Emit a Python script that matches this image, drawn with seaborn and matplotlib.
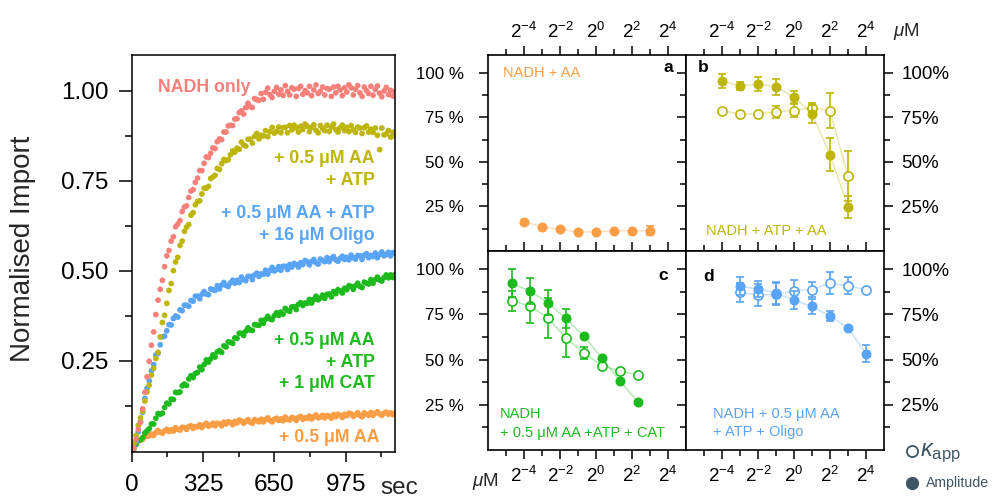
import numpy as np
import pandas as pd
import matplotlib
matplotlib.use("Agg")
import matplotlib.pyplot as plt
import seaborn as sns
from matplotlib.ticker import FixedLocator, FixedFormatter, NullFormatter
from matplotlib.lines import Line2D

# ---------------- data: time course (left panel) ----------------
time_s = np.arange(0, 1201, 10)

nadh_only = [
    0.000, 0.007, 0.031, 0.059, 0.078, 0.116, 0.162, 0.205, 0.248, 0.293,
    0.330, 0.378, 0.418, 0.448, 0.473, 0.511, 0.541, 0.556, 0.582, 0.594,
    0.622, 0.629, 0.639, 0.664, 0.677, 0.680, 0.703, 0.721, 0.725, 0.745,
    0.757, 0.778, 0.778, 0.798, 0.816, 0.814, 0.826, 0.841, 0.839, 0.858,
    0.866, 0.864, 0.885, 0.885, 0.902, 0.904, 0.903, 0.921, 0.922, 0.939,
    0.944, 0.935, 0.953, 0.965, 0.955, 0.953, 0.978, 0.975, 0.973, 0.992,
    0.976, 0.995, 1.007, 0.989, 0.981, 0.998, 1.009, 0.990, 1.002, 0.987,
    1.014, 0.998, 0.988, 1.008, 1.004, 0.984, 1.006, 1.012, 0.990, 1.000,
    0.994, 1.012, 0.986, 1.002, 1.016, 0.992, 0.998, 1.010, 0.988, 1.006,
    1.004, 0.984, 1.010, 0.994, 1.012, 1.002, 0.986, 1.008, 0.996, 1.016,
    1.008, 0.988, 1.004, 1.014, 0.994, 0.984, 1.010, 1.000, 0.992, 1.012,
    0.987, 1.003, 1.013, 0.993, 0.983, 0.999, 1.009, 0.989, 1.001, 0.985,
    0.998]

aa_atp = [
    0.000, 0.020, 0.042, 0.070, 0.091, 0.109, 0.138, 0.163, 0.182, 0.210,
    0.229, 0.256, 0.273, 0.316, 0.356, 0.376, 0.409, 0.445, 0.464, 0.500,
    0.524, 0.537, 0.570, 0.582, 0.609, 0.621, 0.628, 0.654, 0.661, 0.683,
    0.692, 0.694, 0.713, 0.729, 0.729, 0.734, 0.756, 0.760, 0.765, 0.784,
    0.781, 0.797, 0.809, 0.806, 0.808, 0.822, 0.833, 0.829, 0.840, 0.837,
    0.857, 0.849, 0.846, 0.865, 0.865, 0.854, 0.873, 0.881, 0.866, 0.876,
    0.874, 0.889, 0.872, 0.886, 0.898, 0.882, 0.887, 0.899, 0.883, 0.897,
    0.898, 0.883, 0.903, 0.891, 0.904, 0.897, 0.885, 0.901, 0.892, 0.907,
    0.901, 0.886, 0.898, 0.905, 0.890, 0.883, 0.903, 0.895, 0.889, 0.904,
    0.887, 0.899, 0.907, 0.892, 0.885, 0.897, 0.904, 0.889, 0.898, 0.886,
    0.903, 0.891, 0.884, 0.899, 0.896, 0.881, 0.897, 0.902, 0.885, 0.893,
    0.884, 0.896, 0.876, 0.836, 0.896, 0.877, 0.880, 0.889, 0.871, 0.884,
    0.874]

aa_atp_oligo = [
    0.000, 0.012, 0.025, 0.052, 0.081, 0.106, 0.145, 0.173, 0.194, 0.222,
    0.239, 0.266, 0.270, 0.294, 0.316, 0.318, 0.333, 0.350, 0.349, 0.367,
    0.374, 0.371, 0.391, 0.389, 0.404, 0.404, 0.401, 0.417, 0.415, 0.429,
    0.429, 0.422, 0.434, 0.442, 0.435, 0.433, 0.449, 0.447, 0.445, 0.458,
    0.449, 0.460, 0.467, 0.459, 0.456, 0.466, 0.473, 0.465, 0.473, 0.467,
    0.482, 0.475, 0.472, 0.484, 0.484, 0.475, 0.488, 0.493, 0.484, 0.491,
    0.490, 0.501, 0.490, 0.500, 0.509, 0.499, 0.503, 0.511, 0.501, 0.512,
    0.512, 0.503, 0.517, 0.510, 0.520, 0.517, 0.510, 0.522, 0.517, 0.528,
    0.525, 0.516, 0.525, 0.531, 0.522, 0.518, 0.532, 0.528, 0.525, 0.536,
    0.525, 0.534, 0.539, 0.530, 0.526, 0.534, 0.540, 0.531, 0.537, 0.530,
    0.543, 0.536, 0.532, 0.542, 0.541, 0.531, 0.543, 0.547, 0.536, 0.542,
    0.539, 0.549, 0.536, 0.545, 0.552, 0.541, 0.545, 0.551, 0.541, 0.550,
    0.548]

aa_atp_cat = [
    0.000, 0.005, 0.017, 0.028, 0.030, 0.036, 0.049, 0.055, 0.061, 0.074,
    0.074, 0.090, 0.103, 0.101, 0.104, 0.120, 0.132, 0.130, 0.143, 0.142,
    0.162, 0.161, 0.163, 0.180, 0.185, 0.181, 0.199, 0.208, 0.203, 0.214,
    0.217, 0.232, 0.225, 0.239, 0.252, 0.246, 0.255, 0.266, 0.260, 0.274,
    0.278, 0.273, 0.291, 0.288, 0.302, 0.301, 0.298, 0.313, 0.312, 0.326,
    0.326, 0.320, 0.332, 0.341, 0.335, 0.334, 0.350, 0.349, 0.348, 0.362,
    0.354, 0.365, 0.373, 0.366, 0.364, 0.375, 0.383, 0.376, 0.385, 0.379,
    0.395, 0.389, 0.387, 0.399, 0.400, 0.392, 0.406, 0.411, 0.403, 0.410,
    0.409, 0.420, 0.410, 0.420, 0.429, 0.419, 0.424, 0.432, 0.423, 0.434,
    0.435, 0.427, 0.442, 0.436, 0.447, 0.444, 0.438, 0.451, 0.447, 0.458,
    0.456, 0.448, 0.458, 0.465, 0.456, 0.453, 0.468, 0.465, 0.463, 0.475,
    0.465, 0.475, 0.482, 0.474, 0.471, 0.481, 0.488, 0.480, 0.488, 0.481,
    0.489]

aa_only = [
    0.000, 0.009, 0.019, 0.027, 0.029, 0.031, 0.039, 0.040, 0.041, 0.046,
    0.042, 0.050, 0.056, 0.051, 0.048, 0.055, 0.059, 0.053, 0.058, 0.054,
    0.064, 0.059, 0.057, 0.065, 0.064, 0.059, 0.067, 0.069, 0.062, 0.067,
    0.066, 0.072, 0.064, 0.071, 0.076, 0.068, 0.071, 0.076, 0.069, 0.076,
    0.075, 0.069, 0.079, 0.074, 0.080, 0.078, 0.072, 0.081, 0.077, 0.085,
    0.082, 0.076, 0.081, 0.086, 0.079, 0.076, 0.086, 0.083, 0.080, 0.087,
    0.080, 0.086, 0.091, 0.084, 0.080, 0.087, 0.090, 0.084, 0.088, 0.083,
    0.093, 0.087, 0.085, 0.092, 0.090, 0.084, 0.092, 0.095, 0.087, 0.091,
    0.090, 0.096, 0.088, 0.094, 0.099, 0.091, 0.093, 0.098, 0.091, 0.097,
    0.096, 0.090, 0.100, 0.094, 0.101, 0.098, 0.092, 0.101, 0.097, 0.104,
    0.102, 0.095, 0.100, 0.105, 0.098, 0.094, 0.105, 0.101, 0.098, 0.106,
    0.098, 0.104, 0.108, 0.102, 0.098, 0.104, 0.107, 0.101, 0.105, 0.100,
    0.104]

time_ticks = [0, 325, 650, 975]
time_minor = [162.5, 487.5, 812.5, 1137.5]
import_ticks = [0.25, 0.50, 0.75, 1.00]
import_minor = [0.125, 0.375, 0.625, 0.875]

# ---------------- data: titrations (right panels) ----------------
conc_a = [0.0625, 0.125, 0.25, 0.5, 1, 2, 4, 8]
amp_a = [16.5, 13.5, 12.2, 10.7, 10.7, 11.3, 11.3, 11.3]
amp_a_err = [0.6, 0.5, 0.5, 0.5, 0.5, 0.6, 0.6, 2.5]

conc_b = [0.0625, 0.125, 0.25, 0.5, 1, 2, 4, 8]
amp_b = [95.4, 92.7, 93.7, 92.2, 86.3, 77.0, 54.1, 24.7]
amp_b_err = [3.7, 2.3, 3.9, 4.4, 3.5, 4.9, 9.3, 6.4]
kapp_b = [78.8, 76.8, 77.0, 78.2, 78.8, 80.5, 78.6, 42.0]
kapp_b_err = [0.8, 0.6, 0.6, 3.4, 3.7, 2.6, 9.8, 14.0]

conc_c = [0.039, 0.078, 0.156, 0.3125, 0.625, 1.25, 2.5, 5]
amp_c = [92.2, 87.8, 81.5, 72.8, 63.0, 50.9, 38.3, 26.5]
amp_c_err = [7.6, 7.3, 7.1, 5.1, 0.6, 0.6, 0.6, 0.6]
kapp_c = [82.4, 79.7, 73.0, 62.1, 53.7, 46.7, 43.7, 41.5]
kapp_c_err = [5.6, 9.4, 11.0, 10.6, 3.2, 0.6, 0.6, 0.6]

conc_d = [0.125, 0.25, 0.5, 1, 2, 4, 8, 16]
amp_d = [90.6, 88.9, 86.9, 82.8, 79.4, 73.9, 67.6, 53.2]
amp_d_err = [4.8, 4.5, 6.0, 5.0, 4.3, 2.8, 0.6, 4.8]
kapp_d = [87.1, 85.6, 86.1, 88.0, 88.7, 92.2, 90.8, 88.6]
kapp_d_err = [5.3, 6.0, 6.0, 6.0, 4.3, 6.0, 4.6, 0.6]

conc_ticks = [2**-4, 2**-2, 2**0, 2**2, 2**4]
conc_minor = [2**-5, 2**-3, 2**-1, 2**1, 2**3]
conc_labels = [r"$2^{-4}$", r"$2^{-2}$", r"$2^{0}$", r"$2^{2}$", r"$2^{4}$"]
pct_ticks = [25, 50, 75, 100]
pct_minor = [12.5, 37.5, 62.5, 87.5]
pct_labels_left = ["25 %", "50 %", "75 %", "100 %"]
pct_labels_right = ["25%", "50%", "75%", "100%"]

# ---------------- style ----------------
RED = "#F7807B"
OLIVE = "#BDB507"
BLUE = "#5AA4F6"
GREEN = "#1DBA1D"
ORANGE = "#FA9E45"
DARK = "#3E5563"

sns.set_theme(style="ticks")
plt.rcParams["font.family"] = ["Liberation Sans", "DejaVu Sans"]
plt.rcParams.update({
    "mathtext.fontset": "custom",
    "mathtext.rm": "Liberation Sans",
    "mathtext.it": "Liberation Sans:italic",
    "mathtext.bf": "Liberation Sans:bold",
    "axes.linewidth": 1.1,
    "axes.edgecolor": "black",
    "xtick.color": "black",
    "ytick.color": "black",
})

W, H = 998, 500
fig = plt.figure(figsize=(W / 100, H / 100), dpi=100)


def fx(px):
    return px / W


def fy(py):
    return 1 - py / H


# ---------------- left panel ----------------
ax0 = fig.add_axes([fx(131.7), fy(451.7), fx(395) - fx(131.7), fy(55) - fy(451.7)])
conditions = ["+ AA", "+ AA + ATP + CAT", "+ AA + ATP + Oligo", "+ AA + ATP", "NADH only"]
series = [aa_only, aa_atp_cat, aa_atp_oligo, aa_atp, nadh_only]
palette = dict(zip(conditions, [ORANGE, GREEN, BLUE, OLIVE, RED]))
df = pd.DataFrame({
    "time": np.tile(time_s, len(series)),
    "import": np.concatenate([np.asarray(s) for s in series]),
    "condition": np.repeat(conditions, len(time_s)),
})
sns.scatterplot(data=df, x="time", y="import", hue="condition", hue_order=conditions,
                palette=palette, s=17, linewidth=0, legend=False, ax=ax0)
ax0.set_xlim(0, 1200)
ax0.set_ylim(-0.003, 1.099)
ax0.xaxis.set_major_locator(FixedLocator(time_ticks))
ax0.xaxis.set_minor_locator(FixedLocator(time_minor))
ax0.xaxis.set_major_formatter(FixedFormatter([str(t) for t in time_ticks]))
ax0.yaxis.set_major_locator(FixedLocator(import_ticks))
ax0.yaxis.set_minor_locator(FixedLocator(import_minor))
ax0.yaxis.set_major_formatter(FixedFormatter([f"{v:.2f}" for v in import_ticks]))
ax0.set_xlabel("")
ax0.set_ylabel("")
ax0.tick_params(axis="both", which="both", direction="out", width=1.1, labelsize=17.5)
ax0.tick_params(axis="y", which="major", length=9.5, pad=7)
ax0.tick_params(axis="y", which="minor", length=4.8)
ax0.tick_params(axis="x", which="major", length=7.2, pad=9)
ax0.tick_params(axis="x", which="minor", length=3.6)
for sp in ax0.spines.values():
    sp.set_visible(True)
    sp.set_linewidth(1.1)

bold = dict(fontweight="bold", fontsize=12.8, va="baseline")
ax0.text(121, 0.997, "NADH only", color=RED, ha="left", **bold)
ax0.text(1109, 0.798, "+ 0.5 μM AA", color=OLIVE, ha="right", **bold)
ax0.text(1109, 0.738, "+ ATP", color=OLIVE, ha="right", **bold)
ax0.text(1109, 0.645, "+ 0.5 μM AA + ATP", color=BLUE, ha="right", **bold)
ax0.text(1109, 0.585, "+ 16 μM Oligo", color=BLUE, ha="right", **bold)
ax0.text(1109, 0.294, "+ 0.5 μM AA", color=GREEN, ha="right", **bold)
ax0.text(1109, 0.233, "+ ATP", color=GREEN, ha="right", **bold)
ax0.text(1109, 0.173, "+ 1 μM CAT", color=GREEN, ha="right", **bold)
ax0.text(1132, 0.025, "+ 0.5 μM AA", color=ORANGE, ha="right", **bold)

fig.text(fx(23), fy(249), "Normalised Import", rotation=90, ha="center", va="center", fontsize=20)
fig.text(fx(399), fy(488), "sec", ha="center", va="center", fontsize=17.5)

# ---------------- right panels ----------------
x0, xm, x1 = 488, 686, 884
y0, ym, y1 = 55, 251, 450
ax_a = fig.add_axes([fx(x0), fy(ym), fx(xm) - fx(x0), fy(y0) - fy(ym)])
ax_b = fig.add_axes([fx(xm), fy(ym), fx(x1) - fx(xm), fy(y0) - fy(ym)])
ax_c = fig.add_axes([fx(x0), fy(y1), fx(xm) - fx(x0), fy(ym) - fy(y1)])
ax_d = fig.add_axes([fx(xm), fy(y1), fx(x1) - fx(xm), fy(ym) - fy(y1)])


def draw_panel(ax, conc, amp, amp_err, kapp, kapp_err, color):
    sns.lineplot(x=conc, y=amp, color=color, alpha=0.35, lw=1.0, sort=False, ax=ax)
    if kapp is not None:
        sns.lineplot(x=conc, y=kapp, color=color, alpha=0.35, lw=1.0, sort=False, ax=ax)
        ax.errorbar(conc, kapp, yerr=kapp_err, fmt="o", ms=6.6, mfc="white", mec=color,
                    mew=1.2, ecolor=color, elinewidth=1.2, capsize=2.6, capthick=1.2, zorder=3)
    ax.errorbar(conc, amp, yerr=amp_err, fmt="o", ms=6.2, mfc=color, mec=color,
                ecolor=color, elinewidth=1.2, capsize=2.6, capthick=1.2, zorder=4)


draw_panel(ax_a, conc_a, amp_a, amp_a_err, None, None, ORANGE)
draw_panel(ax_b, conc_b, amp_b, amp_b_err, kapp_b, kapp_b_err, OLIVE)
draw_panel(ax_c, conc_c, amp_c, amp_c_err, kapp_c, kapp_c_err, GREEN)
draw_panel(ax_d, conc_d, amp_d, amp_d_err, kapp_d, kapp_d_err, BLUE)

for ax, side_y, side_x in [(ax_a, "left", "top"), (ax_b, "right", "top"),
                           (ax_c, "left", "bottom"), (ax_d, "right", "bottom")]:
    ax.set_xscale("log", base=2)
    ax.set_xlim(2**-6, 2**5)
    ax.set_ylim(0, 110)
    ax.xaxis.set_major_locator(FixedLocator(conc_ticks))
    ax.xaxis.set_minor_locator(FixedLocator(conc_minor))
    ax.xaxis.set_major_formatter(FixedFormatter(conc_labels))
    ax.xaxis.set_minor_formatter(NullFormatter())
    ax.yaxis.set_major_locator(FixedLocator(pct_ticks))
    ax.yaxis.set_minor_locator(FixedLocator(pct_minor))
    ax.yaxis.set_major_formatter(FixedFormatter(pct_labels_left if side_y == "left" else pct_labels_right))
    ax.yaxis.set_minor_formatter(NullFormatter())
    ax.set_xlabel("")
    ax.set_ylabel("")
    ax.tick_params(which="both", direction="out", width=1.1,
                   top=True, bottom=True, left=True, right=True,
                   labeltop=(side_x == "top"), labelbottom=(side_x == "bottom"),
                   labelleft=(side_y == "left"), labelright=(side_y == "right"))
    ax.tick_params(which="major", length=6.5)
    ax.tick_params(which="minor", length=4.0)
    ax.tick_params(axis="x", labelsize=13.5, pad=(3 if side_x == "top" else 5))
    if side_y == "left":
        ax.tick_params(axis="y", labelsize=12.2, pad=11)
    else:
        ax.tick_params(axis="y", labelsize=13.5, pad=6)
    for sp in ax.spines.values():
        sp.set_visible(True)
        sp.set_linewidth(1.2)

small = dict(fontsize=10.5, va="baseline", ha="left")
fig.text(fx(503), fy(76.7), "NADH + AA", color=ORANGE, **small)
fig.text(fx(706), fy(235), "NADH + ATP + AA", color=OLIVE, **small)
fig.text(fx(500), fy(418.3), "NADH", color=GREEN, **small)
fig.text(fx(500), fy(436.7), "+ 0.5 μM AA +ATP + CAT", color=GREEN, **small)
fig.text(fx(713), fy(418.3), "NADH + 0.5 μM AA", color=BLUE, **small)
fig.text(fx(713), fy(436), "+ ATP + Oligo", color=BLUE, **small)

letter = dict(fontsize=12.5, fontweight="bold", va="baseline", color="black")
fig.text(fx(673), fy(72.3), "a", ha="right", **letter)
fig.text(fx(698), fy(72.3), "b", ha="left", **letter)
fig.text(fx(668), fy(280), "c", ha="right", **letter)
fig.text(fx(703), fy(280.7), "d", ha="left", **letter)

fig.text(fx(906), fy(32), r"$\mu$M", ha="center", va="center", fontsize=13.5)
fig.text(fx(485), fy(481), r"$\mu$M", ha="center", va="center", fontsize=13.5)

# legend
fig.add_artist(Line2D([fx(912)], [fy(451)], transform=fig.transFigure, marker="o",
                      ms=8, mfc="white", mec=DARK, mew=1.3, ls="none"))
fig.add_artist(Line2D([fx(912)], [fy(483)], transform=fig.transFigure, marker="o",
                      ms=8.5, mfc=DARK, mec=DARK, ls="none"))
fig.text(fx(920), fy(456), r"$\kappa_{\mathrm{app}}$", ha="left", va="baseline",
         fontsize=17, color=DARK)
fig.text(fx(926), fy(483), "Amplitude", ha="left", va="center", fontsize=10.2, color=DARK)

fig.savefig("out.png", dpi=100)
